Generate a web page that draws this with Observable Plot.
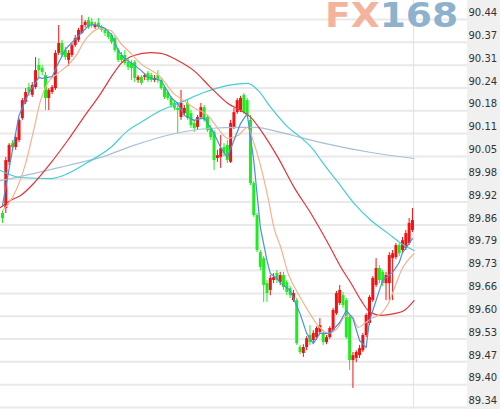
<!DOCTYPE html>
<html>
<head>
<meta charset="utf-8">
<script src="https://cdn.jsdelivr.net/npm/d3@7"></script>
<script src="https://cdn.jsdelivr.net/npm/@observablehq/plot@0.6"></script>
<style>
  html, body { margin: 0; padding: 0; background: #fff; }
  #chart { width: 500px; height: 409px; overflow: hidden; }
</style>
</head>
<body>
<div id="chart"></div>
<script>
// ---- candle data (index = bar number) ----
const open = [
89.890, 89.904, 90.035, 90.088, 90.077, 90.097, 90.159, 90.205, 90.247, 90.225,
90.247, 90.310, 90.301, 90.281, 90.216, 90.233, 90.244, 90.344, 90.372, 90.352,
90.324, 90.338, 90.366, 90.381, 90.400, 90.423, 90.437, 90.432, 90.417, 90.429,
90.417, 90.409, 90.403, 90.395, 90.386, 90.352, 90.338, 90.338, 90.318, 90.315,
90.318, 90.267, 90.276, 90.276, 90.287, 90.281, 90.267, 90.281, 90.267, 90.247,
90.233, 90.216, 90.202, 90.188, 90.162, 90.173, 90.202, 90.173, 90.145, 90.134,
90.162, 90.190, 90.162, 90.131, 90.120, 90.046, 90.049, 90.077, 90.083, 90.035,
90.134, 90.176, 90.182, 90.225, 90.210, 90.154, 89.975, 89.884, 89.779, 89.762,
89.691, 89.672, 89.700, 89.720, 89.694, 89.714, 89.694, 89.677, 89.643, 89.643,
89.510, 89.493, 89.510, 89.544, 89.530, 89.538, 89.553, 89.550, 89.524, 89.538,
89.558, 89.606, 89.635, 89.657, 89.643, 89.595, 89.473, 89.479, 89.487, 89.501,
89.544, 89.578, 89.643, 89.686, 89.734, 89.723, 89.691, 89.691, 89.762, 89.765,
89.799, 89.785, 89.791, 89.805, 89.842
];
const close = [
89.876, 90.040, 90.083, 90.077, 90.105, 90.154, 90.210, 90.233, 90.233, 90.253,
90.295, 90.295, 90.290, 90.216, 90.239, 90.247, 90.344, 90.372, 90.338, 90.332,
90.344, 90.366, 90.386, 90.409, 90.423, 90.432, 90.417, 90.423, 90.423, 90.417,
90.409, 90.400, 90.389, 90.375, 90.352, 90.324, 90.324, 90.315, 90.304, 90.301,
90.273, 90.276, 90.259, 90.281, 90.267, 90.267, 90.273, 90.267, 90.244, 90.219,
90.216, 90.196, 90.188, 90.182, 90.202, 90.188, 90.159, 90.139, 90.131, 90.162,
90.190, 90.154, 90.125, 90.105, 90.040, 90.054, 90.074, 90.060, 90.040, 90.145,
90.176, 90.210, 90.216, 90.176, 90.168, 89.975, 89.884, 89.785, 89.737, 89.686,
89.663, 89.706, 89.708, 89.700, 89.714, 89.680, 89.666, 89.657, 89.663, 89.521,
89.496, 89.510, 89.535, 89.524, 89.550, 89.564, 89.572, 89.524, 89.538, 89.564,
89.615, 89.663, 89.672, 89.629, 89.538, 89.473, 89.487, 89.496, 89.507, 89.544,
89.601, 89.652, 89.706, 89.734, 89.700, 89.691, 89.714, 89.771, 89.776, 89.799,
89.776, 89.813, 89.833, 89.862, 89.870
];
const high = [
89.896, 90.049, 90.088, 90.097, 90.114, 90.159, 90.216, 90.244, 90.259, 90.261,
90.332, 90.329, 90.310, 90.290, 90.244, 90.253, 90.352, 90.423, 90.381, 90.361,
90.352, 90.372, 90.395, 90.415, 90.451, 90.437, 90.446, 90.443, 90.432, 90.443,
90.423, 90.415, 90.409, 90.400, 90.392, 90.358, 90.346, 90.352, 90.329, 90.324,
90.324, 90.281, 90.281, 90.287, 90.293, 90.287, 90.281, 90.295, 90.273, 90.253,
90.239, 90.222, 90.210, 90.205, 90.239, 90.196, 90.210, 90.182, 90.154, 90.168,
90.202, 90.196, 90.168, 90.139, 90.125, 90.069, 90.111, 90.088, 90.097, 90.154,
90.188, 90.216, 90.222, 90.230, 90.216, 90.168, 89.981, 89.890, 89.785, 89.768,
89.700, 89.714, 89.720, 89.728, 89.723, 89.723, 89.700, 89.683, 89.672, 89.649,
89.516, 89.518, 89.541, 89.572, 89.558, 89.569, 89.592, 89.558, 89.544, 89.569,
89.621, 89.669, 89.686, 89.666, 89.649, 89.601, 89.496, 89.501, 89.516, 89.550,
89.606, 89.657, 89.711, 89.762, 89.742, 89.728, 89.723, 89.779, 89.785, 89.805,
89.805, 89.822, 89.842, 89.876, 89.904
];
const low = [
89.862, 89.890, 90.026, 90.069, 90.069, 90.091, 90.154, 90.199, 90.222, 90.219,
90.242, 90.276, 90.281, 90.182, 90.182, 90.227, 90.239, 90.338, 90.332, 90.324,
90.307, 90.332, 90.361, 90.375, 90.398, 90.417, 90.412, 90.415, 90.412, 90.412,
90.403, 90.392, 90.383, 90.369, 90.346, 90.318, 90.318, 90.310, 90.295, 90.267,
90.261, 90.259, 90.253, 90.267, 90.261, 90.261, 90.261, 90.259, 90.239, 90.213,
90.210, 90.188, 90.182, 90.117, 90.154, 90.168, 90.154, 90.131, 90.120, 90.125,
90.156, 90.148, 90.120, 90.097, 90.012, 90.035, 90.018, 90.051, 90.032, 90.032,
90.128, 90.171, 90.176, 90.171, 90.162, 89.969, 89.879, 89.779, 89.728, 89.638,
89.638, 89.657, 89.691, 89.691, 89.686, 89.672, 89.657, 89.649, 89.638, 89.516,
89.490, 89.482, 89.501, 89.516, 89.524, 89.530, 89.547, 89.516, 89.518, 89.533,
89.553, 89.601, 89.629, 89.621, 89.533, 89.445, 89.394, 89.467, 89.479, 89.496,
89.538, 89.572, 89.638, 89.680, 89.691, 89.683, 89.643, 89.643, 89.643, 89.759,
89.768, 89.779, 89.785, 89.799, 89.836
];

// ---- moving-average lines (bar index, price) ----
const ma5X = [0, 3, 5, 8, 11, 12, 15, 17, 19, 21, 24, 26, 28, 31, 33, 35, 37, 40, 42, 44, 48, 51, 53, 55, 58, 61, 64, 66, 68, 70, 72, 74, 76, 78, 80, 81, 83, 84, 87, 90, 92, 94, 96, 99, 102, 104, 106, 108, 110, 111, 114, 115, 118, 120, 121, 123, 124];
const ma5 = [89.913, 90.069, 90.168, 90.233, 90.276, 90.273, 90.278, 90.318, 90.355, 90.375, 90.403, 90.423, 90.426, 90.415, 90.397, 90.352, 90.329, 90.310, 90.295, 90.276, 90.267, 90.219, 90.202, 90.168, 90.154, 90.162, 90.117, 90.077, 90.049, 90.097, 90.145, 90.173, 90.040, 89.850, 89.757, 89.720, 89.706, 89.694, 89.672, 89.606, 89.550, 89.521, 89.550, 89.550, 89.581, 89.615, 89.592, 89.530, 89.510, 89.586, 89.672, 89.700, 89.723, 89.751, 89.779, 89.805, 89.819];

const ma10X = [0, 3, 7, 9.4, 11.5, 13.6, 16.7, 19.7, 22.7, 24.5, 26.7, 29.7, 32.7, 35.8, 38.8, 41.8, 47.9, 51.8, 54.8, 57.9, 62.1, 65.2, 68.2, 71.2, 74.2, 76.1, 78.2, 80.3, 82.1, 84.2, 86.4, 89.4, 92.4, 95.5, 98.5, 101.5, 103.3, 105.5, 107.6, 109.4, 111.5, 114.5, 116.7, 118.5, 120.6, 124.5];
const ma10 = [89.898, 89.935, 90.032, 90.125, 90.210, 90.259, 90.287, 90.310, 90.344, 90.375, 90.400, 90.415, 90.409, 90.372, 90.344, 90.315, 90.276, 90.230, 90.210, 90.190, 90.168, 90.131, 90.103, 90.111, 90.134, 90.088, 90.020, 89.935, 89.850, 89.793, 89.720, 89.663, 89.615, 89.572, 89.550, 89.567, 89.595, 89.601, 89.567, 89.578, 89.592, 89.606, 89.635, 89.677, 89.728, 89.776];

const ma20X = [-0.6, 2.4, 5.5, 9.4, 14.5, 19.7, 24.5, 29.7, 33.6, 35.8, 39.7, 44.8, 47.9, 53, 57.9, 63, 68.2, 72.1, 75.2, 78.2, 83.3, 88.2, 93.3, 98.5, 102.4, 105.5, 108.5, 110.6, 114.5, 118.5, 121.5, 124.5];
const ma20 = [89.907, 89.927, 89.941, 89.975, 90.032, 90.097, 90.162, 90.230, 90.287, 90.315, 90.338, 90.346, 90.344, 90.324, 90.295, 90.247, 90.202, 90.182, 90.162, 90.125, 90.049, 89.964, 89.890, 89.805, 89.737, 89.691, 89.643, 89.615, 89.601, 89.606, 89.615, 89.643];

const ma30X = [-0.6, 5.5, 14.5, 19.7, 25.8, 32.7, 37.9, 41.8, 47.9, 53.9, 60.9, 68.2, 74.2, 77.3, 81.2, 86.4, 90.3, 94.2, 96.4, 101.5, 106.4, 111.5, 116.7, 120.6, 124.5];
const ma30 = [90.012, 89.992, 89.989, 90.003, 90.035, 90.077, 90.125, 90.148, 90.182, 90.205, 90.233, 90.253, 90.259, 90.239, 90.190, 90.134, 90.105, 90.069, 90.040, 89.978, 89.918, 89.870, 89.833, 89.805, 89.785];

const ma60X = [-0.6, 9.4, 19.7, 29.7, 39.7, 50.9, 62.1, 72.1, 76.1, 84.2, 90.3, 96.4, 111.5, 124.5];
const ma60 = [89.983, 90.003, 90.026, 90.049, 90.083, 90.114, 90.131, 90.134, 90.134, 90.120, 90.105, 90.091, 90.063, 90.046];

// ---- axis ----
const tickLabels = ["90.44","90.37","90.31","90.24","90.18","90.11","90.05","89.98","89.92","89.86","89.79","89.73","89.66","89.60","89.53","89.47","89.40","89.34"];
const yTop = 90.44, yBottom = 89.34;
const tickValues = tickLabels.map((_, k) => yTop - k * (yTop - yBottom) / (tickLabels.length - 1));
const separators = [124.3];

const candles = open.map((o, i) => ({i, o, c: close[i], h: high[i], l: low[i], up: close[i] >= o}));
const line = (xs, ys) => xs.map((x, k) => ({x, y: ys[k]}));

const RED = "#f01414", GREEN = "#1eec1e";

const chart = Plot.plot({
  width: 500,
  height: 409,
  marginTop: 19,
  marginBottom: 2,
  marginLeft: 0,
  marginRight: 33,
  style: {background: "transparent", overflow: "visible"},
  x: {type: "linear", domain: [-0.605, 140.65], axis: null},
  y: {domain: [yBottom, yTop], axis: null},
  marks: [
    Plot.ruleY(tickValues, {stroke: "#e9e9e9", strokeWidth: 2}),
    Plot.ruleX(separators, {y1: 89.28, y2: 90.50, stroke: "#e2e2e2", strokeWidth: 1}),
    Plot.ruleX(candles, {x: "i", y1: "l", y2: "h", stroke: d => d.up ? RED : GREEN, strokeWidth: 1}),
    Plot.ruleX(candles, {
      x: "i",
      y1: d => d.o,
      y2: d => Math.abs(d.o - d.c) < 0.003 ? d.o + (d.up ? 0.003 : -0.003) : d.c,
      stroke: d => d.up ? RED : GREEN,
      strokeWidth: 3
    }),
    Plot.line(line(ma60X, ma60), {x: "x", y: "y", stroke: "#a9c0d4", strokeWidth: 1.2, curve: "monotone-x"}),
    Plot.line(line(ma30X, ma30), {x: "x", y: "y", stroke: "#45cdd0", strokeWidth: 1.2, curve: "monotone-x"}),
    Plot.line(line(ma20X, ma20), {x: "x", y: "y", stroke: "#e2343c", strokeWidth: 1.2, curve: "monotone-x"}),
    Plot.line(line(ma10X, ma10), {x: "x", y: "y", stroke: "#f4b38e", strokeWidth: 1.2, curve: "monotone-x"}),
    Plot.line(line(ma5X, ma5), {x: "x", y: "y", stroke: "#4a8fe6", strokeWidth: 1.2}),
    Plot.text(tickValues, {
      y: d => d,
      text: (d, k) => tickLabels[k],
      frameAnchor: "right",
      textAnchor: "start",
      dx: 1,
      dy: -6.5,
      fontSize: 10,
      fontFamily: "DejaVu Sans",
      fill: "#333"
    })
  ]
});

const svg = d3.select(chart);
svg.insert("rect", ":first-child")
  .attr("x", 467).attr("y", 0).attr("width", 33).attr("height", 409)
  .attr("fill", "#f0f0f0");
svg.insert("rect", ":first-child")
  .attr("x", 0).attr("y", 0).attr("width", 500).attr("height", 409)
  .attr("fill", "#ffffff");
const wm = svg.append("text")
  .attr("transform", "translate(325,27) scale(1.14,1)")
  .attr("text-anchor", "start")
  .attr("font-family", "DejaVu Sans")
  .attr("font-weight", "bold")
  .attr("font-size", 33);
wm.append("tspan").attr("fill", "#f4b39c").text("FX");
wm.append("tspan").attr("fill", "#8db2cd").text("168");

document.getElementById("chart").appendChild(chart);
</script>
</body>
</html>
